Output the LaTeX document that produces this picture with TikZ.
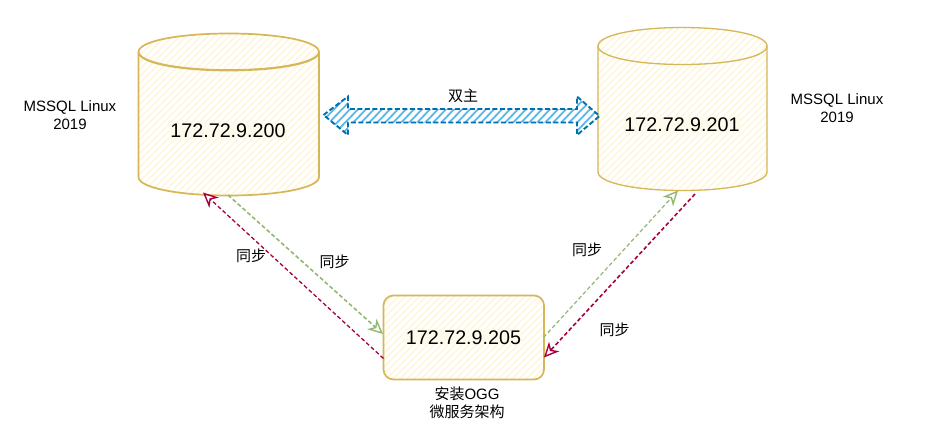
\documentclass[tikz,border=0pt]{standalone}
\usepackage{fontspec}
\setmainfont{Liberation Sans}
\newfontfamily\cjk{Noto Sans CJK SC}
\usetikzlibrary{arrows.meta}
\definecolor{gold}{HTML}{D6B656}
\definecolor{hatchy}{HTML}{FFF4D6}
\definecolor{labelbg}{HTML}{FFFBEC}
\definecolor{bluel}{HTML}{006EAF}
\definecolor{hatchb}{HTML}{5DB8EA}
\definecolor{crimson}{HTML}{A50040}
\definecolor{sage}{HTML}{93B874}
\tikzset{
  x=1pt,y=-1pt,
  outline/.style={draw=gold,line width=1.7pt,line join=round},
  outlineb/.style={draw=gold,line width=1.3pt,line join=round},
  outlinethin/.style={draw=gold,line width=.8pt,line join=round},
  hatchline/.style={draw=hatchy,line width=1.1pt},
  bluehatch/.style={draw=hatchb,line width=1.8pt},
  bluearrow/.style={draw=bluel,line width=1.9pt,dash pattern=on 5pt off 2.5pt,line join=miter},
  boxtext/.style={font=\fontsize{19.7}{22}\selectfont,fill=labelbg,inner sep=1pt,text=black},
  plain/.style={font=\fontsize{15}{18}\selectfont,align=center,inner sep=0pt,text=black},
  zh/.style={font=\cjk\fontsize{15}{18}\selectfont,inner sep=0pt,text=black},
  headtip/.style={-{Stealth[open,length=15pt,width=14pt,inset=4.5pt,line width=1.4pt]}},
  redflow/.style={headtip,draw=crimson,line width=#1,dash pattern=on 4pt off 2.5pt},
  greenflow/.style={headtip,draw=sage,line width=#1,dash pattern=on 4pt off 2.5pt},
}
\newcommand{\hatchlines}[4]{%
  \foreach \k in {-300,-293,...,1300}{\draw[#4] (\k,#2) -- ({\k-(#3-#2)},#3);}%
}
\newcommand{\cylshape}[5]{% x1,y1,x2,y2,ry
  (#1,{#2+#5}) .. controls (#1,{#2+#5*.42}) and ({#1+(#3-#1)*.22},#2) .. ({(#1+#3)/2},#2)
  .. controls ({#3-(#3-#1)*.22},#2) and (#3,{#2+#5*.42}) .. (#3,{#2+#5})
  -- (#3,{#4-#5}) .. controls (#3,{#4-#5*.42}) and ({#3-(#3-#1)*.22},#4) .. ({(#1+#3)/2},#4)
  .. controls ({#1+(#3-#1)*.22},#4) and (#1,{#4-#5*.42}) .. (#1,{#4-#5}) -- cycle
}
\newcommand{\cylfront}[5]{%
  (#1,{#2+#5}) .. controls (#1,{#2+#5*1.58}) and ({#1+(#3-#1)*.22},{#2+2*#5}) .. ({(#1+#3)/2},{#2+2*#5})
  .. controls ({#3-(#3-#1)*.22},{#2+2*#5}) and (#3,{#2+#5*1.58}) .. (#3,{#2+#5})
}
\newcommand{\arrowpath}{(323.5,115) -- (348,96.5) -- (348,109) -- (577,109) -- (577,96.5) -- (599.5,116) -- (577,135) -- (577,122.5) -- (348,122.5) -- (348,135) -- cycle}
\begin{document}
\begin{tikzpicture}
\useasboundingbox (0,0) rectangle (934,444);
\fill[white] (0,0) rectangle (934,444);

% left cylinder
\begin{scope}
  \clip \cylshape{138.5}{33.5}{319}{195.5}{18.5};
  \hatchlines{138}{33}{196}{hatchline}
\end{scope}
\path[outline] \cylshape{138.5}{33.5}{319}{195.5}{18.5};
\path[outlinethin,yshift=.9pt] \cylfront{138.5}{33.5}{319}{195.5}{18.5};
\path[outline] \cylfront{138.5}{33.5}{319}{195.5}{18.5};
\node[boxtext] (db1) at (228,130.7) {172.72.9.200};

% right cylinder
\begin{scope}
  \clip \cylshape{598}{27.5}{767}{190.5}{18.5};
  \hatchlines{598}{27}{191}{hatchline}
\end{scope}
\path[outlineb] \cylshape{598}{27.5}{767}{190.5}{18.5};
\path[outlineb] \cylfront{598}{27.5}{767}{190.5}{18.5};
\node[boxtext] (db2) at (682,124.7) {172.72.9.201};

% OGG box
\begin{scope}
  \clip[rounded corners=10pt] (383.5,295.5) rectangle (544,379.5);
  \hatchlines{384}{295}{380}{hatchline}
\end{scope}
\draw[outline,rounded corners=10pt] (383.5,295.5) rectangle (544,379.5);
\node[boxtext] (ogg) at (463.5,337.3) {172.72.9.205};

% double arrow
\begin{scope}
  \clip \arrowpath;
  \foreach \k in {300,308,...,660}{\draw[bluehatch] (\k,95) -- ({\k-40},136);}
\end{scope}
\draw[bluearrow] \arrowpath;
\node[zh] (dual) at (463,96) {双主};

% connection ends
\coordinate (a1) at (228,195);
\coordinate (a2) at (383,334);
\coordinate (b1) at (383.5,358.5);
\coordinate (b2) at (203,192.5);
\coordinate (c1) at (543.5,337.5);
\coordinate (c2) at (678,190.5);
\coordinate (d1) at (695,194);
\coordinate (d2) at (544,357.5);

\draw[greenflow=1.6pt] (a1) -- (a2);
\draw[redflow=1.3pt] (b1) -- (b2);
\draw[greenflow=1.2pt] (c1) -- (c2);
\draw[redflow=1.6pt] (d1) -- (d2);

\node[zh] (l1) at (251,255.5) {同步};
\node[zh] (l2) at (334.5,261.5) {同步};
\node[zh] (l3) at (587,249.5) {同步};
\node[zh] (l4) at (614.5,329.5) {同步};

\node[plain] (m1) at (70,115) {MSSQL Linux\\2019};
\node[plain] (m2) at (837,108.5) {MSSQL Linux\\2019};
\node[plain] (inst) at (467,402.5) {{\cjk 安装}OGG\\{\cjk 微服务架构}};
\end{tikzpicture}
\end{document}
